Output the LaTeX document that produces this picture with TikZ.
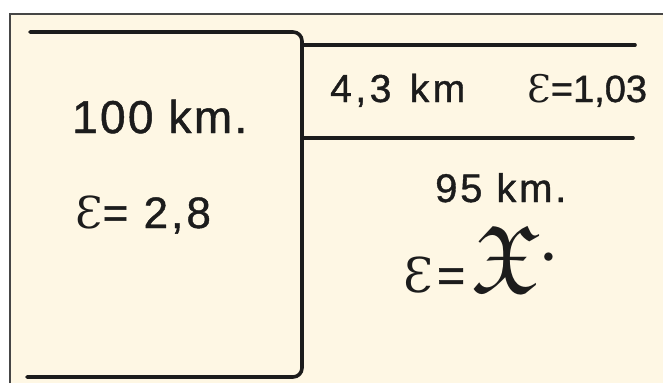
\RequirePackage{fix-cm}
\documentclass[tikz,border=0pt]{standalone}
\usepackage{amssymb}
\usepackage{fontspec}
\setmainfont{Liberation Sans}
\newfontfamily\epsfont{DejaVu Serif}
\definecolor{paper}{RGB}{254,247,228}
\definecolor{framegrey}{RGB}{70,70,70}
\definecolor{ink}{RGB}{28,28,28}
\newcommand{\Eps}{{\epsfont Ɛ}}
\tikzset{
  txt/.style={anchor=base west, inner sep=0pt, text=ink},
  heavy/.style={draw=ink, line width=3.6pt, line cap=round, line join=round}
}
\begin{document}
\begin{tikzpicture}[x=1pt,y=-1pt]
\useasboundingbox (0,0) rectangle (663,383);
\fill[white] (0,0) rectangle (663,383);
\fill[paper] (10,14) rectangle (663,383);
\draw[framegrey, line width=1.2pt] (10,383) -- (10,14) -- (663,14);
% left box
\draw[heavy, rounded corners=9pt] (30,32) -| (302,377) -- (27,377);
% right strip
\draw[heavy] (302,45) -- (635,45);
\draw[heavy] (302,138) -- (633,138);
% texts
\node[txt, font=\fontsize{46}{50}\selectfont\addfontfeature{LetterSpace=5,FakeBold=1}] (t100) at (72,133) {100 km.};
\node[txt, font=\fontsize{44}{48}\selectfont\addfontfeature{LetterSpace=7,FakeBold=1}] (teps28) at (75,228) {\Eps= 2,8};
\node[txt, font=\fontsize{39}{42}\selectfont\addfontfeature{LetterSpace=9,FakeBold=1}] (t43) at (330,102) {4,3\hspace{4pt} km};
\node[txt, font=\fontsize{38}{42}\selectfont\addfontfeature{FakeBold=1}] (teps103) at (527,102) {\Eps=1,03};
\node[txt, font=\fontsize{40}{44}\selectfont\addfontfeature{LetterSpace=7,FakeBold=1}] (t95) at (435,202) {95 km.};
\node[txt, font=\fontsize{48}{52}\selectfont\addfontfeature{FakeBold=1}] (tepsx) at (403,292) {\Eps\hspace{4pt}=\hspace{6pt}\scalebox{2.0}{$\mathfrak{X}$}\hspace{3pt}\raisebox{30pt}{\scalebox{0.45}{$\bullet$}}};
\end{tikzpicture}
\end{document}
